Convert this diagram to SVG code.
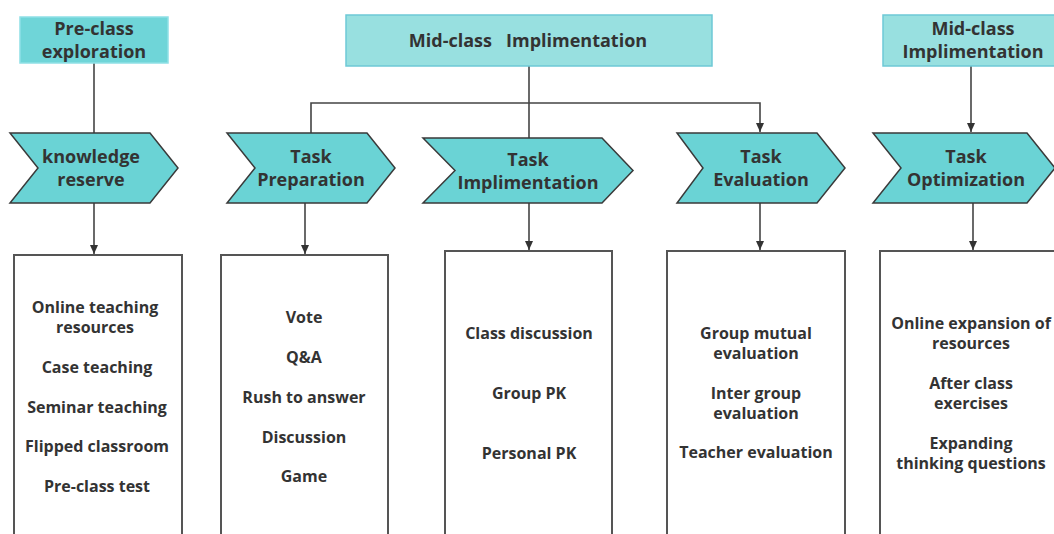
<svg xmlns="http://www.w3.org/2000/svg" width="1054" height="534" viewBox="0 0 1054 534">
<style>
.t{font-family:"Open Sans","Noto Sans","Liberation Sans",sans-serif;font-weight:bold;fill:#333;text-anchor:middle}
.h{font-size:18px}
.b{font-size:16px}
.chev{fill:#6ad3d5;stroke:#3a3a3a;stroke-width:1.5}
.top1{fill:#6fd5d8;stroke:#8fe0e6;stroke-width:1.5}
.top2{fill:#98e0e0;stroke:#6ec9d6;stroke-width:1.5}
.box{fill:#fff;stroke:#555;stroke-width:2}
.ln{fill:none;stroke:#444;stroke-width:1.6}
</style>
<defs>
<marker id="ar" markerWidth="10" markerHeight="10" refX="9" refY="5" orient="auto" markerUnits="userSpaceOnUse">
<path d="M0,1 L9,5 L0,9 Z" fill="#333"/>
</marker>
</defs>
<rect width="1054" height="534" fill="#fff"/>
<g id="connectors">
<path class="ln" d="M94,63 V133"/>
<path class="ln" d="M529,66 V138"/>
<path class="ln" d="M311,133 V103 H760 V132" marker-end="url(#ar)"/>
<path class="ln" d="M971,66 V132" marker-end="url(#ar)"/>
<path class="ln" d="M94,203 V254" marker-end="url(#ar)"/>
<path class="ln" d="M305,203 V254" marker-end="url(#ar)"/>
<path class="ln" d="M529,203 V250" marker-end="url(#ar)"/>
<path class="ln" d="M760,203 V250" marker-end="url(#ar)"/>
<path class="ln" d="M973,203 V250" marker-end="url(#ar)"/>
</g>
<g id="pre-class">
<rect class="top1" x="20" y="17" width="148" height="46"/>
<text class="t h" x="94" y="35">Pre-class</text>
<text class="t h" x="94" y="58">exploration</text>
</g>
<g id="mid-class-main">
<rect class="top2" x="346" y="15" width="366" height="51"/>
<text class="t h" x="528" y="47" xml:space="preserve">Mid-class   Implimentation</text>
</g>
<g id="mid-class-right">
<rect class="top2" x="883" y="15" width="180" height="51"/>
<text class="t h" x="973" y="35">Mid-class</text>
<text class="t h" x="973" y="58">Implimentation</text>
</g>
<g id="knowledge-reserve">
<polygon class="chev" points="10,133 150,133 178,168 150,203 10,203 38,168"/>
<text class="t h" x="91" y="163">knowledge</text>
<text class="t h" x="91" y="186">reserve</text>
</g>
<g id="task-preparation">
<polygon class="chev" points="227,133 367,133 395,168 367,203 227,203 255,168"/>
<text class="t h" x="311" y="163">Task</text>
<text class="t h" x="311" y="186">Preparation</text>
</g>
<g id="task-implimentation">
<polygon class="chev" points="423,138 602,138 633,170.5 602,203 423,203 455,170.5"/>
<text class="t h" x="528" y="166">Task</text>
<text class="t h" x="528" y="189">Implimentation</text>
</g>
<g id="task-evaluation">
<polygon class="chev" points="677,133 817,133 845,168 817,203 677,203 703,168"/>
<text class="t h" x="761" y="163">Task</text>
<text class="t h" x="761" y="186">Evaluation</text>
</g>
<g id="task-optimization">
<polygon class="chev" points="873,133 1027,133 1055,168 1027,203 873,203 901,168"/>
<text class="t h" x="966" y="163">Task</text>
<text class="t h" x="966" y="186">Optimization</text>
</g>
<g id="box-knowledge">
<rect class="box" x="14" y="255" width="168" height="290"/>
<text class="t b" x="95" y="313">Online teaching</text>
<text class="t b" x="95" y="333">resources</text>
<text class="t b" x="97" y="373">Case teaching</text>
<text class="t b" x="97" y="413">Seminar teaching</text>
<text class="t b" x="97" y="452">Flipped classroom</text>
<text class="t b" x="97" y="492">Pre-class test</text>
</g>
<g id="box-preparation">
<rect class="box" x="221" y="255" width="167" height="290"/>
<text class="t b" x="304" y="323">Vote</text>
<text class="t b" x="304" y="363">Q&amp;A</text>
<text class="t b" x="304" y="403">Rush to answer</text>
<text class="t b" x="304" y="443">Discussion</text>
<text class="t b" x="304" y="482">Game</text>
</g>
<g id="box-implimentation">
<rect class="box" x="445" y="251" width="167" height="294"/>
<text class="t b" x="529" y="339">Class discussion</text>
<text class="t b" x="529" y="399">Group PK</text>
<text class="t b" x="529" y="459">Personal PK</text>
</g>
<g id="box-evaluation">
<rect class="box" x="667" y="251" width="178" height="294"/>
<text class="t b" x="756" y="339">Group mutual</text>
<text class="t b" x="756" y="359">evaluation</text>
<text class="t b" x="756" y="399">Inter group</text>
<text class="t b" x="756" y="419">evaluation</text>
<text class="t b" x="756" y="458">Teacher evaluation</text>
</g>
<g id="box-optimization">
<rect class="box" x="880" y="251" width="190" height="294"/>
<text class="t b" x="971" y="329">Online expansion of</text>
<text class="t b" x="971" y="349">resources</text>
<text class="t b" x="971" y="389">After class</text>
<text class="t b" x="971" y="409">exercises</text>
<text class="t b" x="971" y="449">Expanding</text>
<text class="t b" x="971" y="469">thinking questions</text>
</g>
</svg>
